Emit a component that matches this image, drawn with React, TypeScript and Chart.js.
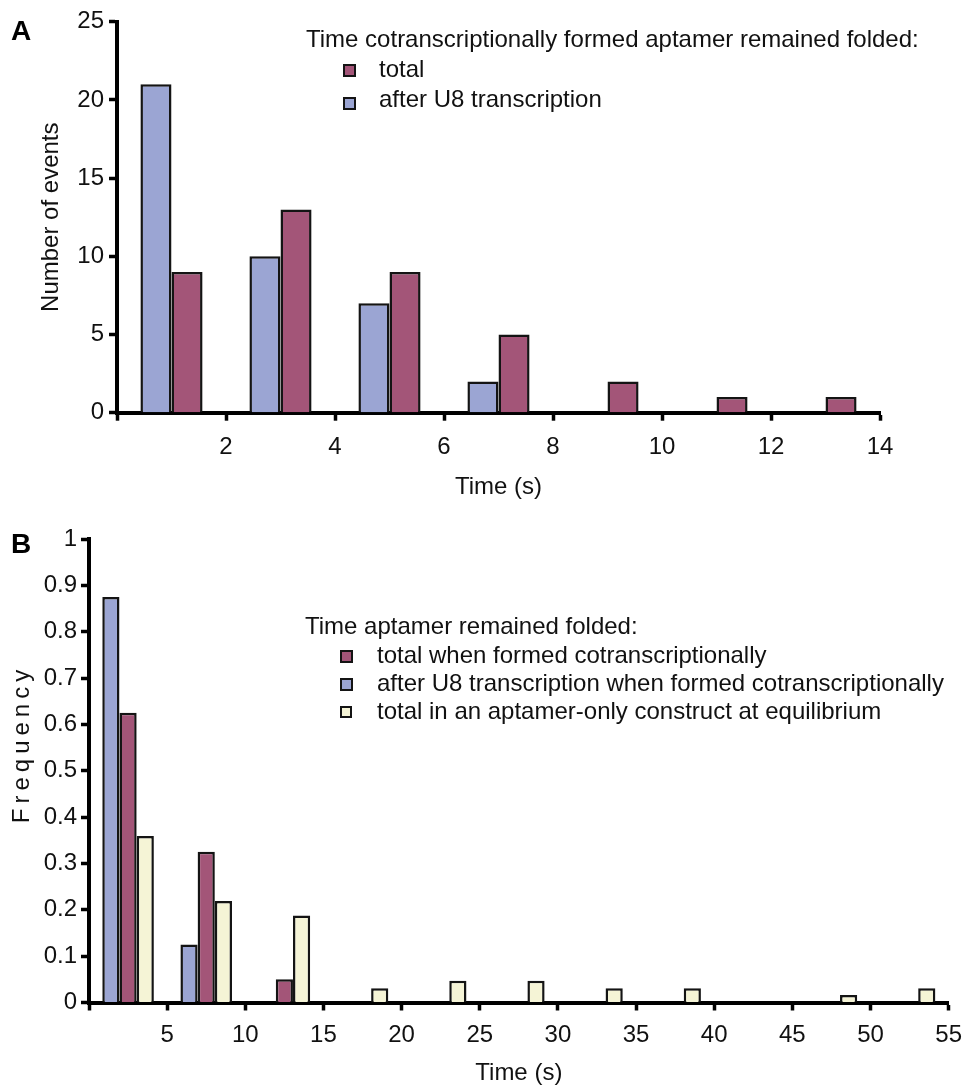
import React, { useEffect, useRef } from 'react';
import { Chart, registerables } from 'chart.js';

Chart.register(...registerables);

// ---------- Panel A data ----------
const binsA = [1, 3, 5, 7, 9, 11, 13];
const afterU8A = [21, 10, 7, 2, 0, 0, 0];
const totalA = [9, 13, 9, 5, 2, 1, 1];
const xTicksA = [0, 2, 4, 6, 8, 10, 12, 14];
const yTicksA = [0, 5, 10, 15, 20, 25];

// ---------- Panel B data ----------
const binsB = [2.5, 7.5, 12.5, 17.5, 22.5, 27.5, 32.5, 37.5, 42.5, 47.5, 52.5];
const afterU8B = [0.875, 0.125, 0, 0, 0, 0, 0, 0, 0, 0, 0];
const totalB = [0.625, 0.325, 0.05, 0, 0, 0, 0, 0, 0, 0, 0];
const equilibriumB = [0.359, 0.219, 0.1875, 0.031, 0.047, 0.047, 0.031, 0.031, 0, 0.016, 0.031];
const xTicksB = [0, 5, 10, 15, 20, 25, 30, 35, 40, 45, 50, 55];
const yTicksB = [0, 0.1, 0.2, 0.3, 0.4, 0.5, 0.6, 0.7, 0.8, 0.9, 1];

const legendTitleA = 'Time cotranscriptionally formed aptamer remained folded:';
const legendTitleB = 'Time aptamer remained folded:';

const BLUE = '#9BA5D3';
const MAROON = '#A35578';
const YELLOW = '#F5F4D6';
const EDGE = '#141414';
const INK = '#111111';
const FONT = "'Liberation Sans', Arial, Helvetica, sans-serif";

const toPoints = (xs: number[], ys: number[]) =>
  xs.map((x, i) => ({ x, y: ys[i] === 0 ? null : ys[i] }));

const barStyle = (color: string) => ({
  backgroundColor: color,
  borderColor: EDGE,
  borderWidth: 2.5,
  barPercentage: 1.0,
});

function axisBase(tickVals: number[], hideZero: boolean, padding: number) {
  return {
    type: 'linear' as const,
    offset: false,
    z: 1,
    afterBuildTicks: (s: any) => {
      s.ticks = tickVals.map((v) => ({ value: v }));
    },
    ticks: {
      color: INK,
      font: { family: FONT, size: 24 },
      padding,
      maxRotation: 0,
      autoSkip: false,
      callback: (v: any) => (hideZero && Number(v) === 0 ? '' : String(v)),
    },
    grid: {
      display: true,
      drawOnChartArea: false,
      drawTicks: true,
      tickLength: 8,
      tickWidth: 3.5,
      tickColor: '#000',
      offset: false,
    },
    border: { display: true, color: '#000', width: 4 },
  };
}

function makeChartA(canvas: HTMLCanvasElement) {
  return new Chart(canvas, {
    type: 'bar',
    data: {
      datasets: [
        { label: 'after U8 transcription', data: toPoints(binsA, afterU8A), ...barStyle(BLUE), categoryPercentage: 0.57 },
        { label: 'total', data: toPoints(binsA, totalA), ...barStyle(MAROON), categoryPercentage: 0.57 },
      ],
    } as any,
    options: {
      animation: false,
      responsive: false,
      devicePixelRatio: 1,
      layout: { padding: { top: 21.7, right: 92, bottom: 0, left: 0 } },
      plugins: { legend: { display: false }, tooltip: { enabled: false } },
      scales: {
        x: {
          ...axisBase(xTicksA, true, 12),
          min: 0,
          max: 14,
          afterFit: (s: any) => {
            s.height = 107.3;
          },
          title: {
            display: true,
            text: 'Time (s)',
            color: INK,
            font: { family: FONT, size: 24, lineHeight: 1 },
            padding: { top: 0, bottom: 21 },
          },
        },
        y: {
          ...axisBase(yTicksA, false, 5),
          min: 0,
          max: 25,
          afterFit: (s: any) => {
            s.width = 117;
          },
          title: {
            display: true,
            text: 'Number of events',
            color: INK,
            font: { family: FONT, size: 24, lineHeight: 1 },
            padding: { top: 39, bottom: 0 },
          },
        },
      },
    } as any,
  });
}

function makeChartB(canvas: HTMLCanvasElement) {
  return new Chart(canvas, {
    type: 'bar',
    data: {
      datasets: [
        { label: 'after U8 transcription when formed cotranscriptionally', data: toPoints(binsB, afterU8B), ...barStyle(BLUE), categoryPercentage: 0.66 },
        { label: 'total when formed cotranscriptionally', data: toPoints(binsB, totalB), ...barStyle(MAROON), categoryPercentage: 0.66 },
        { label: 'total in an aptamer-only construct at equilibrium', data: toPoints(binsB, equilibriumB), ...barStyle(YELLOW), categoryPercentage: 0.66 },
      ],
    } as any,
    options: {
      animation: false,
      responsive: false,
      devicePixelRatio: 1,
      layout: { padding: { top: 19, right: 15.3, bottom: 0, left: 0 } },
      plugins: { legend: { display: false }, tooltip: { enabled: false } },
      scales: {
        x: {
          ...axisBase(xTicksB, true, 10),
          min: 0,
          max: 55,
          afterFit: (s: any) => {
            s.height = 82.5;
          },
          title: {
            display: true,
            text: 'Time (s)',
            color: INK,
            font: { family: FONT, size: 24, lineHeight: 1 },
            padding: { top: 0, bottom: 0 },
          },
        },
        y: {
          ...axisBase(yTicksB, false, 4),
          min: 0,
          max: 1,
          afterFit: (s: any) => {
            s.width = 89;
          },
          title: { display: false },
        },
      },
    } as any,
  });
}

const textStyle = (left: number, top: number, size = 24): React.CSSProperties => ({
  position: 'absolute',
  left,
  top,
  fontFamily: FONT,
  fontSize: size,
  lineHeight: `${size}px`,
  color: INK,
  whiteSpace: 'nowrap',
});

const swatch = (left: number, top: number, color: string, size = 13): React.CSSProperties => ({
  position: 'absolute',
  left,
  top,
  width: size,
  height: size,
  boxSizing: 'border-box',
  border: `2px solid ${EDGE}`,
  background: color,
});

export default function App() {
  const refA = useRef<HTMLCanvasElement>(null);
  const refB = useRef<HTMLCanvasElement>(null);

  useEffect(() => {
    const a = makeChartA(refA.current!);
    const b = makeChartB(refB.current!);
    return () => {
      a.destroy();
      b.destroy();
    };
  }, []);

  return (
    <div style={{ position: 'absolute', left: 0, top: 0, width: 972, height: 1085, background: '#fff', overflow: 'hidden' }}>
      <canvas ref={refA} width={972} height={520} style={{ position: 'absolute', left: 0, top: 0, width: 972, height: 520 }} />
      <canvas ref={refB} width={972} height={565} style={{ position: 'absolute', left: 0, top: 520, width: 972, height: 565 }} />

      {/* panel letters */}
      <div style={{ ...textStyle(11, 17, 28), fontWeight: 'bold', color: '#000' }}>A</div>
      <div style={{ ...textStyle(11, 530, 28), fontWeight: 'bold', color: '#000' }}>B</div>

      {/* legend A */}
      <div style={textStyle(306, 27)}>{legendTitleA}</div>
      <div style={swatch(343, 63.5, MAROON)} />
      <div style={textStyle(379, 57)}>total</div>
      <div style={swatch(343, 96.5, BLUE)} />
      <div style={textStyle(379, 87)}>after U8 transcription</div>

      {/* legend B */}
      <div style={textStyle(305, 614)}>{legendTitleB}</div>
      <div style={swatch(339.5, 649.5, MAROON)} />
      <div style={textStyle(377, 643)}>total when formed cotranscriptionally</div>
      <div style={swatch(339.5, 677.5, BLUE)} />
      <div style={textStyle(377, 671)}>after U8 transcription when formed cotranscriptionally</div>
      <div style={swatch(340, 705.5, YELLOW, 12)} />
      <div style={textStyle(377, 699)}>total in an aptamer-only construct at equilibrium</div>

      {/* panel B y-axis title */}
      <div
        style={{
          position: 'absolute',
          left: 21 - 100,
          top: 744 - 12,
          width: 200,
          height: 24,
          textAlign: 'center',
          fontFamily: FONT,
          fontSize: 24,
          lineHeight: '24px',
          letterSpacing: '5px',
          color: INK,
          whiteSpace: 'nowrap',
          transform: 'rotate(-90deg)',
          transformOrigin: '50% 50%',
        }}
      >
        Frequency
      </div>
    </div>
  );
}
